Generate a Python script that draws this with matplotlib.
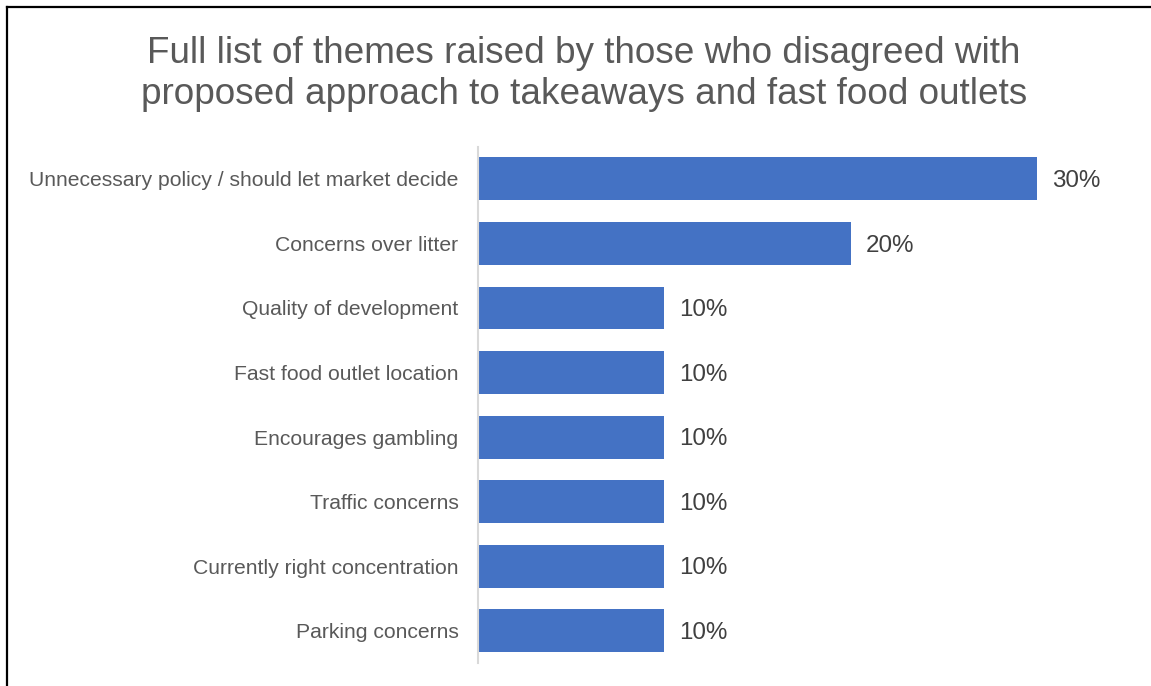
import matplotlib
matplotlib.use("Agg")
import matplotlib.pyplot as plt
from matplotlib.lines import Line2D

categories = [
    "Unnecessary policy / should let market decide",
    "Concerns over litter",
    "Quality of development",
    "Fast food outlet location",
    "Encourages gambling",
    "Traffic concerns",
    "Currently right concentration",
    "Parking concerns",
]
values = [0.30, 0.20, 0.10, 0.10, 0.10, 0.10, 0.10, 0.10]
value_labels = ["30%", "20%", "10%", "10%", "10%", "10%", "10%", "10%"]
title = "Full list of themes raised by those who disagreed with\nproposed approach to takeaways and fast food outlets"

plt.rcParams['font.family'] = ['Liberation Sans', 'DejaVu Sans']

W, H = 1151, 686
fig = plt.figure(figsize=(W / 100, H / 100), dpi=100)

left_px, right_px = 478, 1130
top_px, bot_px = 146.6, 663
ax = fig.add_axes([left_px / W, (H - bot_px) / H, (right_px - left_px) / W, (bot_px - top_px) / H])

pos = list(range(len(categories)))
ax.barh(pos, values, height=0.665, color="#4472C4")
ax.set_ylim(len(categories) - 0.5, -0.5)
ax.set_xlim(0, 0.35)
ax.set_yticks(pos)
ax.set_yticklabels(categories, fontsize=15.2, color="#595959")
ax.tick_params(axis='y', length=0, pad=14)
ax.set_xticks([])
for s in ["top", "right", "bottom"]:
    ax.spines[s].set_visible(False)
ax.spines["left"].set_color("#D9D9D9")
ax.spines["left"].set_linewidth(1.5)

for p, v, lab in zip(pos, values, value_labels):
    ax.annotate(lab, (v, p), xytext=(11, -1.5), textcoords="offset points",
                va="center", ha="left", fontsize=17.4, color="#404040")

fig.text(584 / W, (H - 74) / H, title, ha="center", va="center",
         fontsize=26.6, color="#595959", linespacing=1.21)

# Border lines (left and top)
fig.add_artist(Line2D([7 / W, 7 / W], [0, (H - 7) / H], transform=fig.transFigure,
                      color="black", lw=1.6))
fig.add_artist(Line2D([7 / W, 1], [(H - 7) / H, (H - 7) / H], transform=fig.transFigure,
                      color="black", lw=1.6))

fig.savefig("out.png", dpi=100)
